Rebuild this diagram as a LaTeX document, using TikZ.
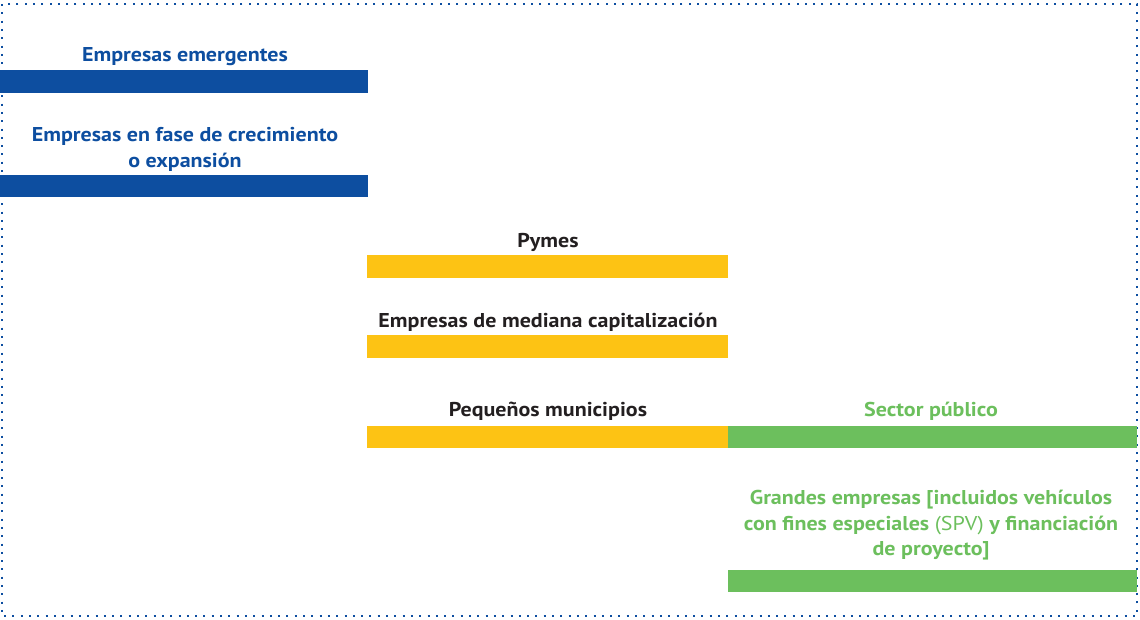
\documentclass[tikz,border=0pt]{standalone}
\usepackage{fontspec}
\setmainfont{PT Sans}[FakeStretch=1.1]
\definecolor{eblue}{HTML}{0D4EA0}
\definecolor{eyellow}{HTML}{FDC314}
\definecolor{egreen}{HTML}{6CBF5D}
\definecolor{etext}{HTML}{231F20}
\begin{document}
\begin{tikzpicture}[x=1pt,y=-1pt,
  lbl/.style={font=\fontsize{20}{25.5}\selectfont\bfseries, align=center, inner sep=0pt},
  frame/.style={eblue, line width=2pt, dash pattern=on 2pt off 6.3pt}]
\useasboundingbox (0,0) rectangle (1140,619);
\draw[frame] (2,4) rectangle (1137,616);
% blue bars
\fill[eblue] (0,70) rectangle (368,93);
\fill[eblue] (0,175) rectangle (368,197);
% yellow bars
\fill[eyellow] (367,255) rectangle (728,278);
\fill[eyellow] (367,335) rectangle (728,358);
\fill[eyellow] (367,426) rectangle (728,448);
% green bars
\fill[egreen] (728,426) rectangle (1137,448);
\fill[egreen] (728,570) rectangle (1137,592);
% labels
\node[lbl, text=eblue] (t1) at (185,57) {Empresas emergentes};
\node[lbl, text=eblue] (t2) at (185,149.5) {Empresas en fase de crecimiento\\o expansión};
\node[lbl, text=etext] (t3) at (548,242.5) {Pymes};
\node[lbl, text=etext] (t4) at (548,322.5) {Empresas de mediana capitalización};
\node[lbl, text=etext] (t5) at (548,411.5) {Pequeños municipios};
\node[lbl, text=egreen] (t6) at (931,411.5) {Sector público};
\node[lbl, text=egreen] (t7) at (931,525.5) {Grandes empresas [incluidos vehículos\\con fines especiales \mdseries(SPV)\bfseries{} y financiación\\de proyecto]};
\end{tikzpicture}
\end{document}
